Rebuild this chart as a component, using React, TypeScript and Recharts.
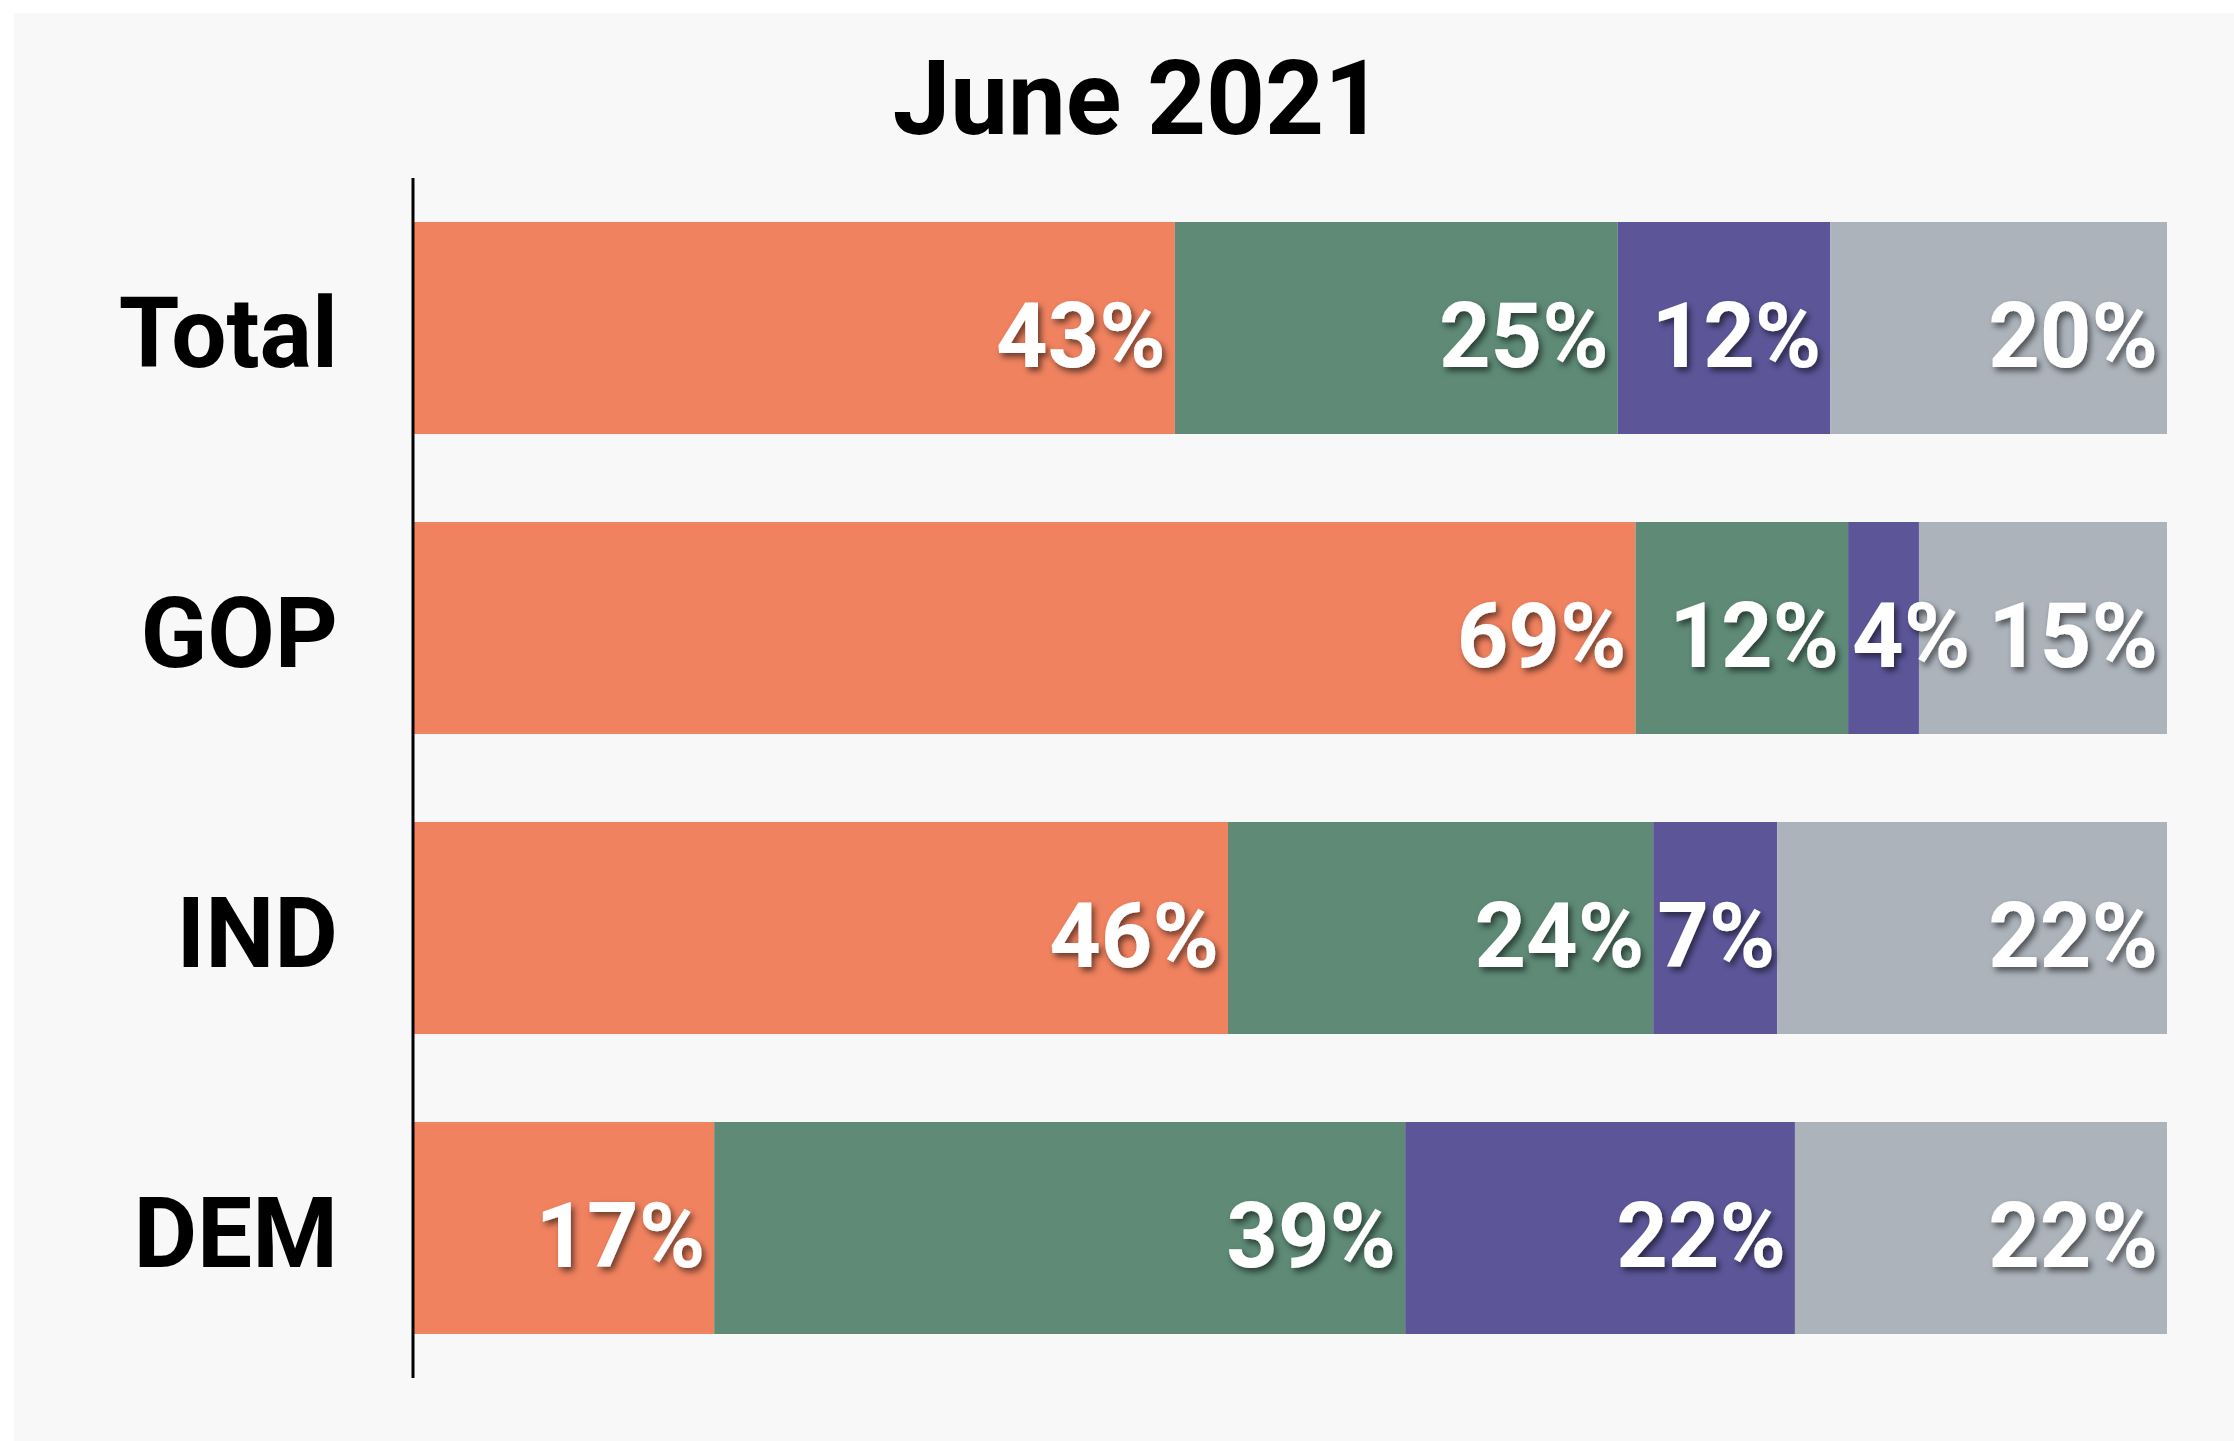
import React from 'react';
import { BarChart, Bar, XAxis, YAxis, LabelList } from 'recharts';

// ---- data ----
const categories = ['Total', 'GOP', 'IND', 'DEM'];
const series1 = [43, 69, 46, 17];
const series2 = [25, 12, 24, 39];
const series3 = [12, 4, 7, 22];
const series4 = [20, 15, 22, 22];
const seriesKeys = ['s1', 's2', 's3', 's4'];
const seriesColors = ['#F0825F', '#5E8A76', '#5C5699', '#ACB3BB'];
const xDomain = [0, 99];
const title = 'June 2021';

const data = categories.map((name, i) => ({
  name,
  s1: series1[i],
  s2: series2[i],
  s3: series3[i],
  s4: series4[i],
}));

// ---- layout ----
const W = 2234;
const H = 1441;
const MARGIN = { top: 178, right: 67, bottom: 63, left: 0 };
const PLOT_RIGHT = W - MARGIN.right;
const FONT = 'Roboto, "Noto Sans", sans-serif';
const LABEL_SIZE = 90;

const estimateWidth = (s: string) => {
  let w = 0;
  for (const c of s) w += c === '%' ? 0.76 : 0.565;
  return w * LABEL_SIZE;
};

const ValueLabel = (props: any) => {
  const { x, y, width, height, value } = props;
  const start = Number(x);
  const end = Math.min(start + Number(width), PLOT_RIGHT);
  const cy = Number(y) + Number(height) / 2;
  const txt = `${value}%`;
  const fits = estimateWidth(txt) + 8 <= end - start;
  return (
    <text
      x={fits ? end - 9 : start + 4}
      y={cy + 39}
      textAnchor={fits ? 'end' : 'start'}
      fill="#ffffff"
      fontFamily={FONT}
      fontWeight={700}
      fontSize={LABEL_SIZE}
      filter="url(#labelShadow)"
    >
      {txt}
    </text>
  );
};

const CategoryTick = (props: any) => {
  const { x, y, payload } = props;
  return (
    <text
      x={x}
      y={Number(y) + 39}
      textAnchor="end"
      fill="#000000"
      fontFamily={FONT}
      fontWeight={700}
      fontSize={98}
    >
      {payload.value}
    </text>
  );
};

export default function App() {
  return (
    <div style={{ position: 'absolute', left: 0, top: 0, width: W, height: H, background: '#ffffff', overflow: 'hidden' }}>
      <div style={{ position: 'absolute', left: 14, top: 13, right: 0, bottom: 0, background: '#F8F8F8' }} />
      <svg width={W} height={H} style={{ position: 'absolute', left: 0, top: 0 }}>
        <defs>
          <filter id="labelShadow" x="-20%" y="-20%" width="140%" height="150%">
            <feDropShadow dx="3" dy="4" stdDeviation="3" floodColor="#000000" floodOpacity="0.55" />
          </filter>
        </defs>
        <text x={1138} y={134} textAnchor="middle" fill="#000000" fontFamily={FONT} fontWeight={700} fontSize={103}>
          {title}
        </text>
      </svg>
      <div style={{ position: 'absolute', left: 0, top: 0 }}>
        <BarChart width={W} height={H} data={data} layout="vertical" margin={MARGIN}>
          <XAxis type="number" domain={xDomain} allowDataOverflow hide />
          <YAxis
            type="category"
            dataKey="name"
            width={413}
            axisLine={{ stroke: '#000000', strokeWidth: 3 }}
            tickLine={false}
            tickSize={0}
            tickMargin={75}
            tick={<CategoryTick />}
          />
          {seriesKeys.map((k, i) => (
            <Bar key={k} dataKey={k} stackId="a" fill={seriesColors[i]} barSize={212} isAnimationActive={false}>
              <LabelList dataKey={k} content={<ValueLabel />} />
            </Bar>
          ))}
        </BarChart>
      </div>
    </div>
  );
}
